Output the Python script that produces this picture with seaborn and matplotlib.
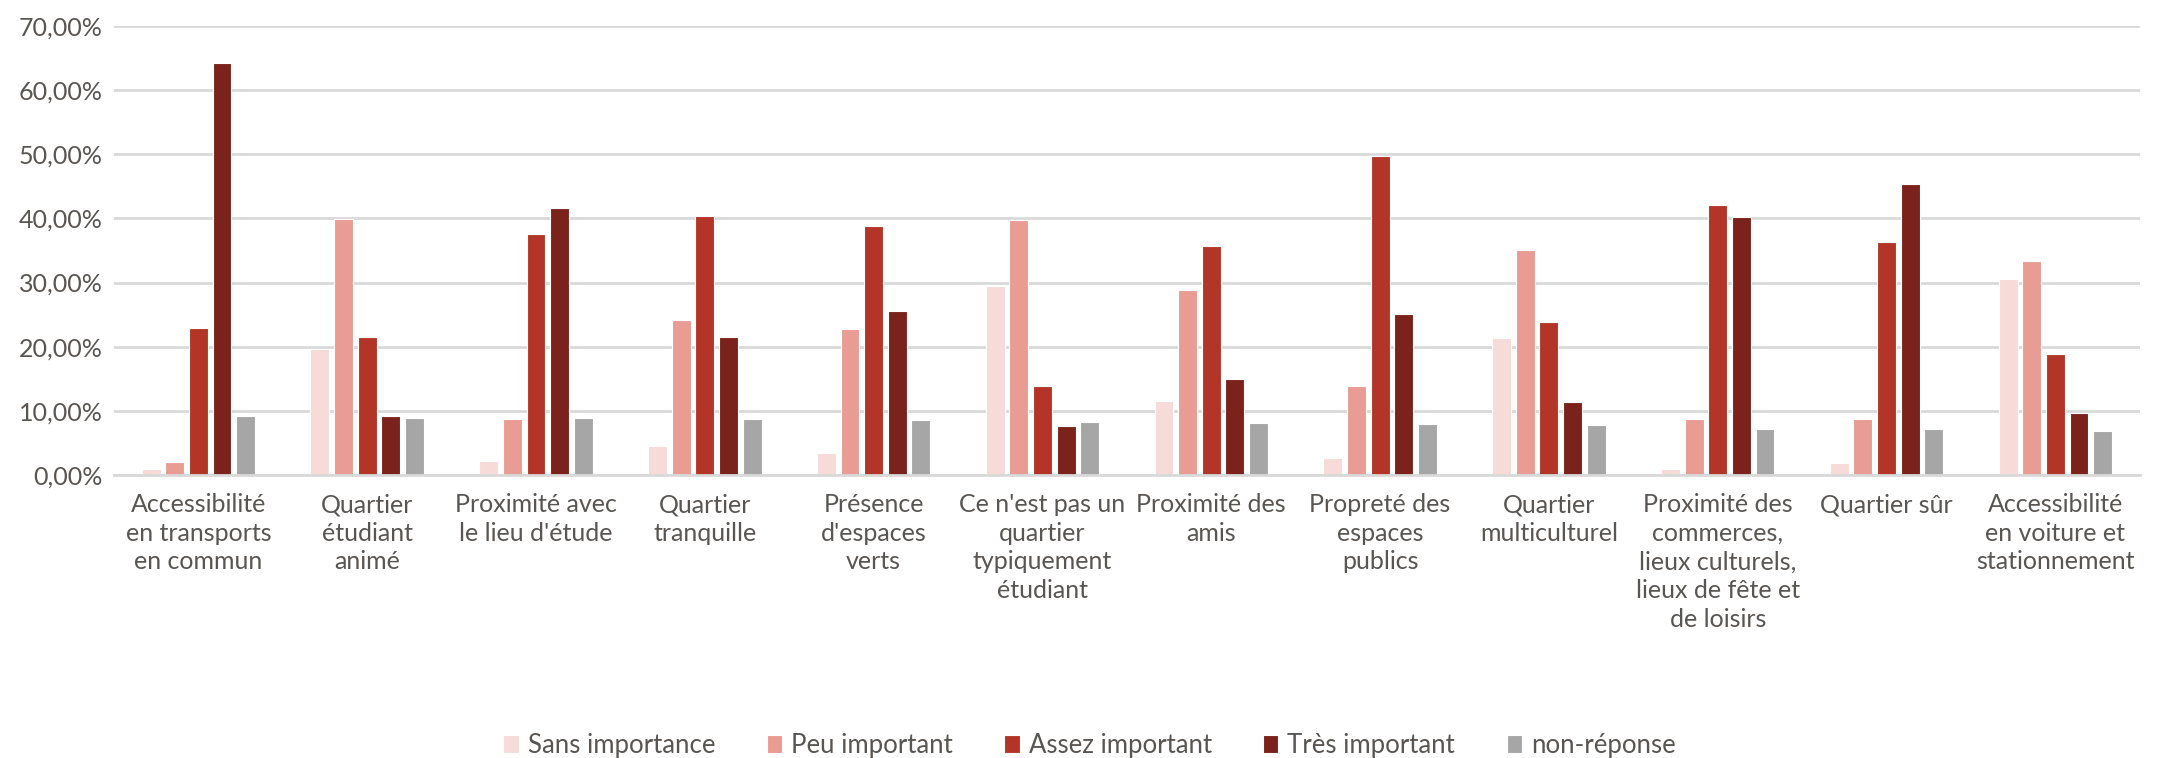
import numpy as np
import pandas as pd
import matplotlib
matplotlib.use('Agg')
import matplotlib.pyplot as plt
from matplotlib.ticker import FuncFormatter
import seaborn as sns

# Data (share of respondents)
categories = [
    "Accessibilité\nen transports\nen commun",
    "Quartier\nétudiant\nanimé",
    "Proximité avec\nle lieu d'étude",
    "Quartier\ntranquille",
    "Présence\nd'espaces\nverts",
    "Ce n'est pas un\nquartier\ntypiquement\nétudiant",
    "Proximité des\namis",
    "Propreté des\nespaces\npublics",
    "Quartier\nmulticulturel",
    "Proximité des\ncommerces,\nlieux culturels,\nlieux de fête et\nde loisirs",
    "Quartier sûr",
    "Accessibilité\nen voiture et\nstationnement",
]
sans_importance = [0.9, 19.7, 2.1, 4.5, 3.4, 29.5, 11.6, 2.6, 21.3, 1.0, 1.8, 30.5]
peu_important = [2.0, 39.9, 8.8, 24.1, 22.7, 39.7, 28.8, 13.8, 35.0, 8.7, 8.7, 33.3]
assez_important = [22.9, 21.5, 37.6, 40.4, 38.8, 13.9, 35.7, 49.8, 23.9, 42.1, 36.3, 18.9]
tres_important = [64.3, 9.2, 41.7, 21.5, 25.6, 7.6, 15.0, 25.1, 11.3, 40.2, 45.3, 9.7]
non_reponse = [9.2, 8.9, 8.9, 8.7, 8.5, 8.3, 8.1, 8.0, 7.85, 7.2, 7.2, 6.8]

series_names = ['Sans importance', 'Peu important', 'Assez important',
                'Très important', 'non-réponse']
colors = ['#F6DBD8', '#E89C93', '#B23528', '#7A221B', '#A6A6A6']

df = pd.DataFrame({
    'Critère': categories,
    'Sans importance': sans_importance,
    'Peu important': peu_important,
    'Assez important': assez_important,
    'Très important': tres_important,
    'non-réponse': non_reponse,
})
long_df = df.melt(id_vars='Critère', var_name='Réponse', value_name='Part')
long_df['Part'] = long_df['Part'] / 100

sns.set_style('white')
plt.rcParams['font.family'] = ['Lato', 'DejaVu Sans']
text_color = '#595552'

fig = plt.figure(figsize=(21.79, 7.58), dpi=100)
ax = fig.add_axes([0.0523, 0.3734, 0.9297, 0.5923])

sns.barplot(data=long_df, x='Critère', y='Part', hue='Réponse',
            hue_order=series_names, palette=colors, saturation=1,
            width=0.7, gap=0.2, edgecolor='white', linewidth=0.8,
            ax=ax, legend=True)

ax.set_ylim(0, 0.70)
ax.set_xlim(-0.5, len(categories) - 0.5)
ax.set_yticks(np.arange(0, 0.71, 0.10))
ax.yaxis.set_major_formatter(FuncFormatter(lambda v, p: f'{v * 100:.2f}%'.replace('.', ',')))
ax.grid(axis='y', color='#D9D9D9', linewidth=2)
ax.set_axisbelow(True)
for side in ['top', 'right', 'left']:
    ax.spines[side].set_visible(False)
ax.spines['bottom'].set_color('#D9D9D9')
ax.spines['bottom'].set_linewidth(2)
ax.tick_params(axis='both', length=0, labelsize=18, colors=text_color, pad=8)
ax.tick_params(axis='x', pad=13)
for lbl in ax.get_xticklabels():
    lbl.set_linespacing(1.3)
ax.set_xlabel('')
ax.set_ylabel('')

handles, labels = ax.get_legend_handles_labels()
ax.get_legend().remove()
fig.legend(handles, labels, loc='center', bbox_to_anchor=(0.5, 1 - 745 / 758),
           ncol=5, frameon=False, fontsize=18.5, labelcolor=text_color,
           handlelength=0.6, handleheight=0.7, handletextpad=0.35, columnspacing=2.0)

fig.savefig('out.png', dpi=100, facecolor='white')
